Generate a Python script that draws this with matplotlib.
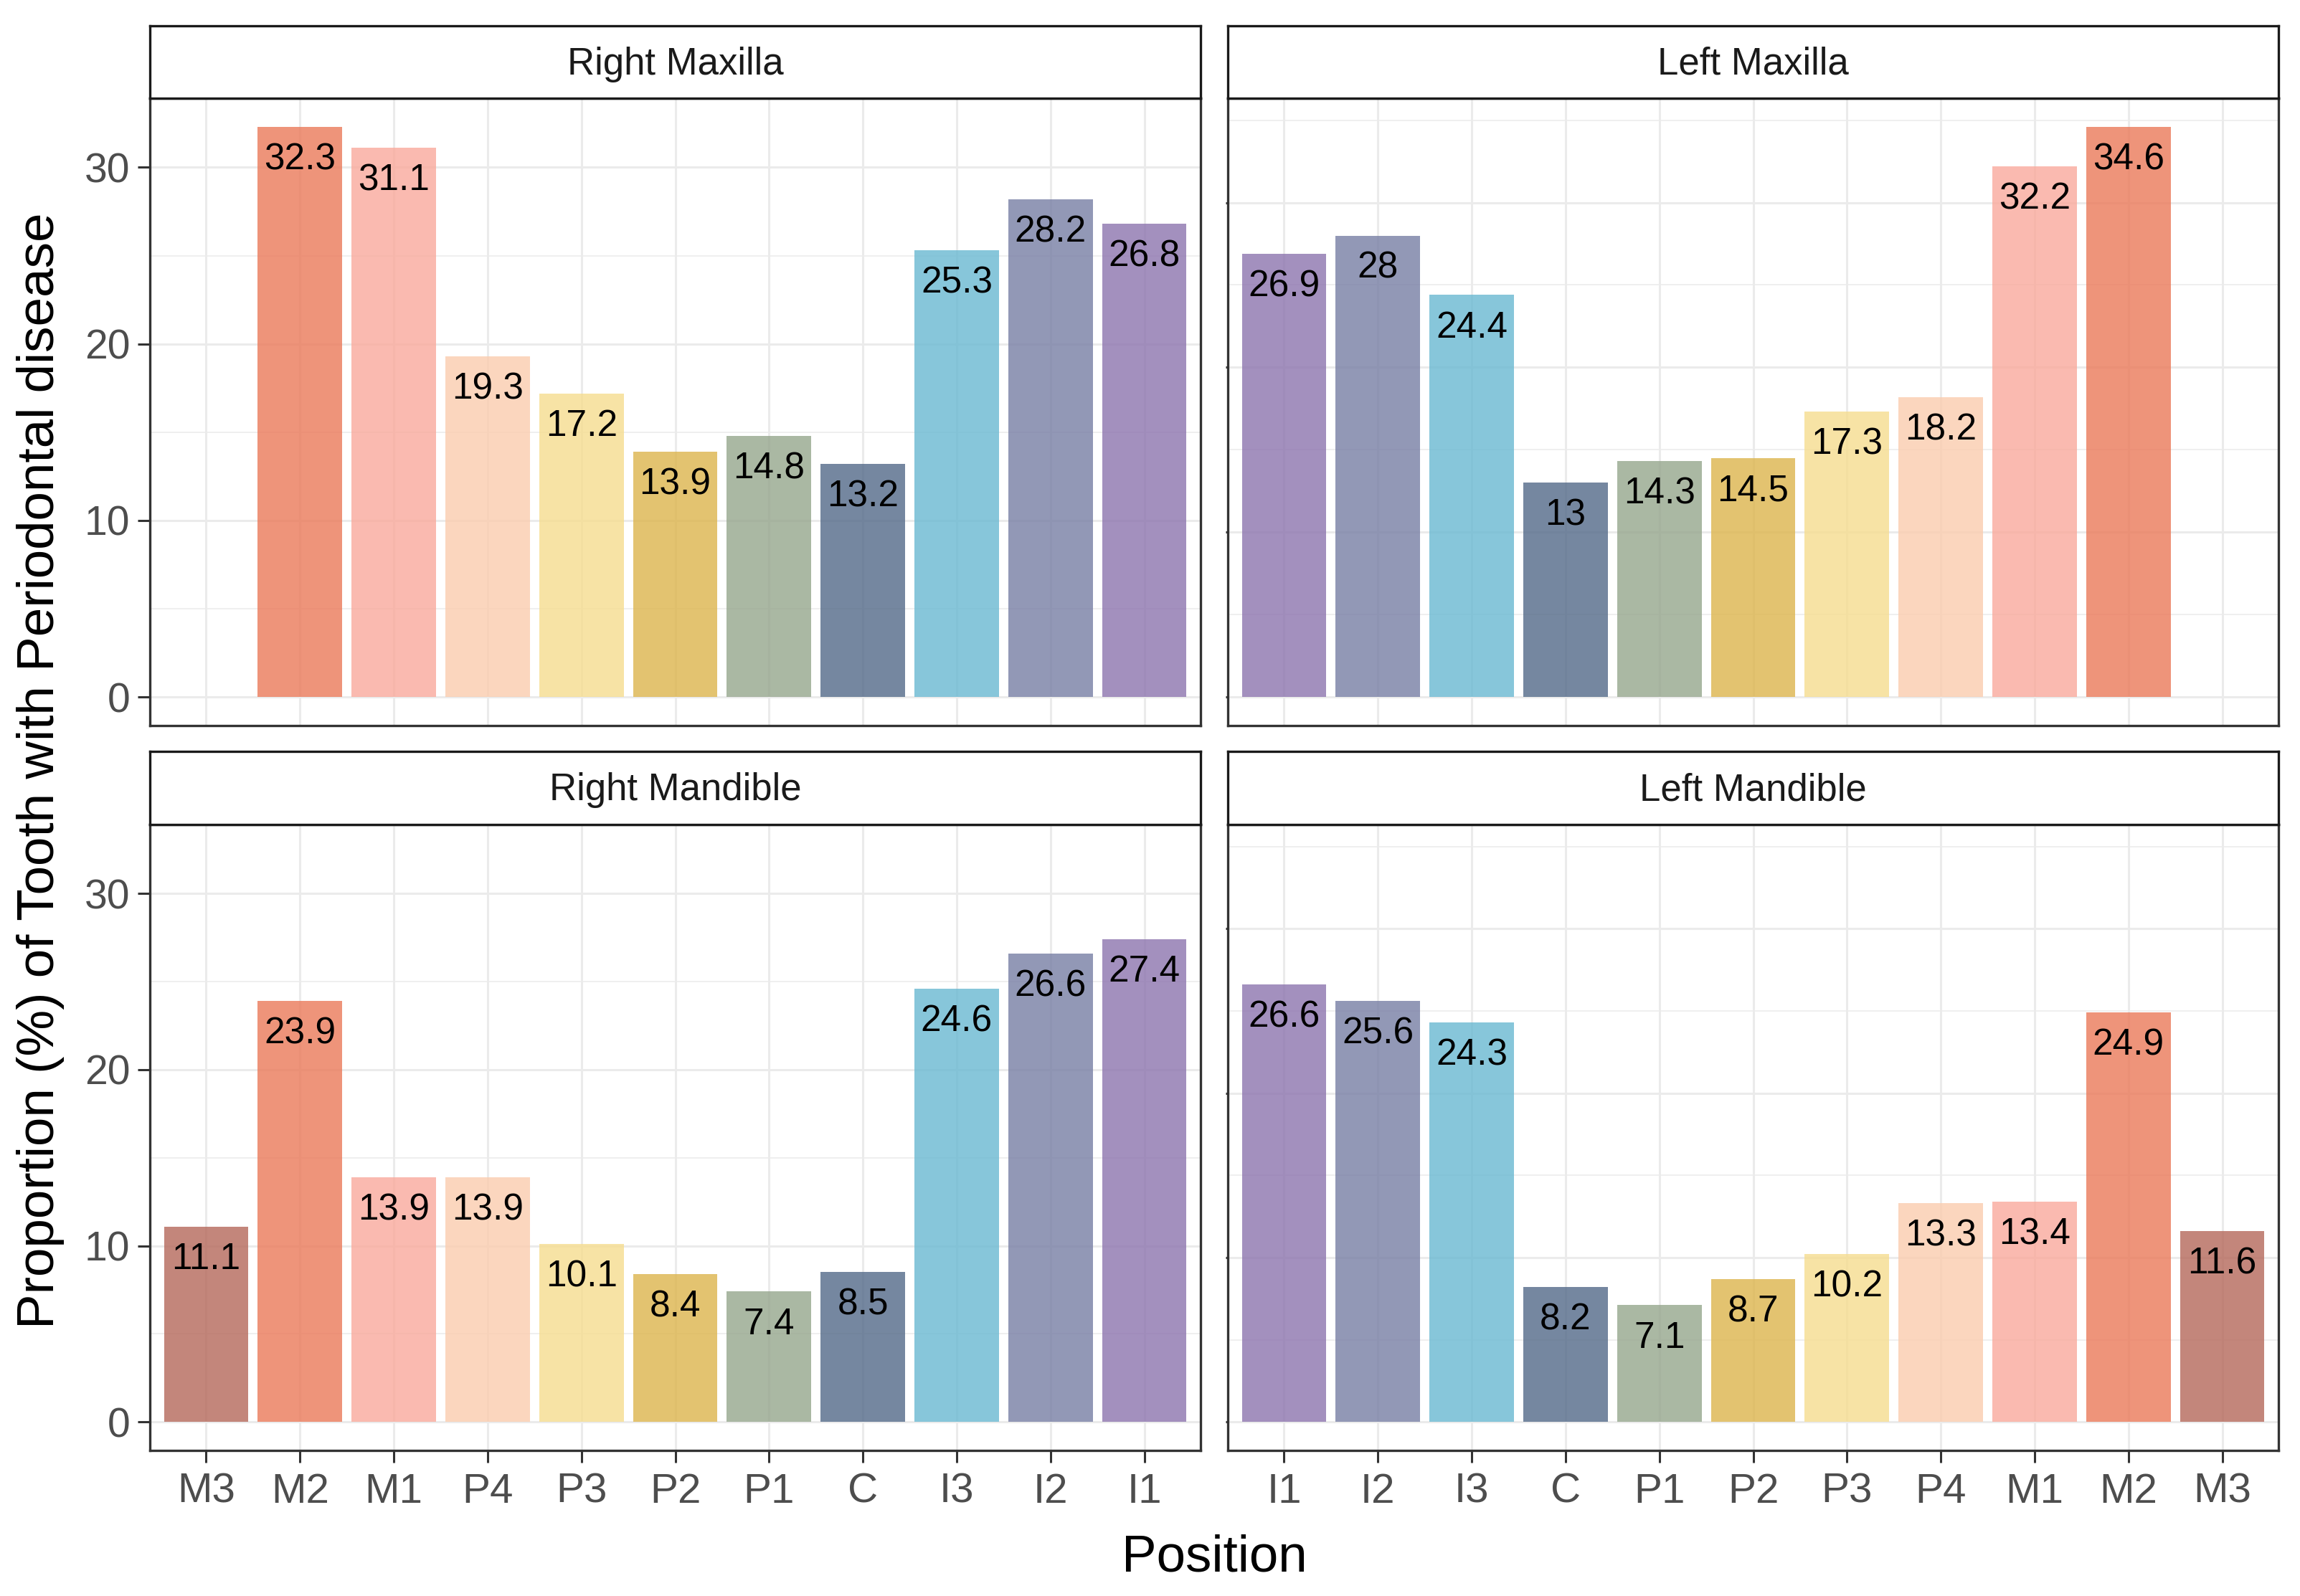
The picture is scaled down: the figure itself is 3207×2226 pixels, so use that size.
import matplotlib
matplotlib.use('Agg')
import matplotlib.pyplot as plt
import numpy as np

plt.rcParams['font.family'] = ['Liberation Sans', 'DejaVu Sans']

# ---------------- data ----------------
right_positions = ["M3", "M2", "M1", "P4", "P3", "P2", "P1", "C", "I3", "I2", "I1"]
left_positions = ["I1", "I2", "I3", "C", "P1", "P2", "P3", "P4", "M1", "M2", "M3"]

right_maxilla = [np.nan, 32.3, 31.1, 19.3, 17.2, 13.9, 14.8, 13.2, 25.3, 28.2, 26.8]
left_maxilla = [26.9, 28.0, 24.4, 13.0, 14.3, 14.5, 17.3, 18.2, 32.2, 34.6, np.nan]
right_mandible = [11.1, 23.9, 13.9, 13.9, 10.1, 8.4, 7.4, 8.5, 24.6, 26.6, 27.4]
left_mandible = [26.6, 25.6, 24.3, 8.2, 7.1, 8.7, 10.2, 13.3, 13.4, 24.9, 11.6]

tooth_colors = {
    "M3": "#B5685A", "M2": "#EA7959", "M1": "#F9A99C", "P4": "#FBCCAE",
    "P3": "#F6DD8F", "P2": "#DDB54C", "P1": "#95A68C", "C": "#536988",
    "I3": "#69B8D1", "I2": "#777EA4", "I1": "#8C74AE",
}

panel_titles = ["Right Maxilla", "Left Maxilla", "Right Mandible", "Left Mandible"]

# ---------------- layout ----------------
W, H = 3207, 2226
fig = plt.figure(figsize=(W / 100, H / 100), dpi=100)

def fx(px):
    return px / W

def fy(py):
    return 1 - py / H

col_x = [(209, 1674), (1712, 3177)]
row_y = [(36, 137, 1012), (1048, 1150, 2023)]  # strip top, strip bottom/panel top, panel bottom

left_max = np.nanmax(right_maxilla + right_mandible)
right_max = np.nanmax(left_maxilla + left_mandible)

panels = [
    (panel_titles[0], right_positions, right_maxilla, 0, 0, left_max),
    (panel_titles[1], left_positions, left_maxilla, 0, 1, right_max),
    (panel_titles[2], right_positions, right_mandible, 1, 0, left_max),
    (panel_titles[3], left_positions, left_mandible, 1, 1, right_max),
]

border_col = "#333333"
grid_col = "#EBEBEB"

for title, cats, vals, r, c, ymax in panels:
    x0, x1 = col_x[c]
    st, sb, pb = row_y[r]
    ax = fig.add_axes([fx(x0), fy(pb), fx(x1 - x0), fy(sb) - fy(pb)])
    sax = fig.add_axes([fx(x0), fy(sb), fx(x1 - x0), fy(st) - fy(sb)])

    x = np.arange(1, len(cats) + 1)
    lo, hi = -0.05 * ymax, 1.05 * ymax
    ax.set_xlim(0.4, len(cats) + 0.6)
    ax.set_ylim(lo, hi)

    ax.set_xticks(x)
    ax.set_xticklabels(cats)
    ax.set_yticks([t for t in [0, 10, 20, 30] if t <= hi])
    ax.set_yticks([t for t in [5, 15, 25, 35] if t <= hi], minor=True)
    ax.set_axisbelow(True)
    ax.grid(True, which='major', axis='both', color=grid_col, linewidth=2.2)
    ax.grid(True, which='minor', axis='y', color=grid_col, linewidth=1.1)

    colors = [tooth_colors[k] for k in cats]
    v = np.array(vals, dtype=float)
    ax.bar(x, np.nan_to_num(v), width=0.9, color=colors, alpha=0.8,
           linewidth=0, zorder=2)
    for xi, vi in zip(x, v):
        if np.isnan(vi):
            continue
        ax.annotate(f"{vi:g}", (xi, vi), xytext=(0, -33),
                    textcoords='offset points', ha='center', va='center',
                    fontsize=37, color='black', zorder=3)

    for sp in ax.spines.values():
        sp.set_color(border_col)
        sp.set_linewidth(2.4)
        sp.set_zorder(4)

    ax.tick_params(which='minor', length=0)
    if c == 0:
        ax.tick_params(axis='y', which='major', length=12, width=2.2,
                       color=border_col, labelsize=41, labelcolor='#4D4D4D', pad=8)
    else:
        ax.tick_params(axis='y', which='major', length=2, width=2.2,
                       color=border_col, labelleft=False)
    if r == 1:
        ax.tick_params(axis='x', which='major', length=12, width=2.2,
                       color=border_col, labelsize=42, labelcolor='#4D4D4D', pad=10)
    else:
        ax.tick_params(axis='x', which='major', bottom=False, labelbottom=False)

    sax.set_xticks([])
    sax.set_yticks([])
    sax.set_facecolor('white')
    for sp in sax.spines.values():
        sp.set_color('#1A1A1A')
        sp.set_linewidth(2.4)
    sax.text(0.5, 0.47, title, ha='center', va='center', fontsize=38,
             color='#1A1A1A', transform=sax.transAxes)

fig.text(fx(57), fy(1075), "Proportion (%) of Tooth with Periodontal disease",
         rotation=90, ha='center', va='center', fontsize=52.5, color='black')
fig.text(fx(1693), fy(2192), "Position", ha='center', va='baseline',
         fontsize=52.5, color='black')

fig.savefig("out.png", dpi=100, facecolor='white')
